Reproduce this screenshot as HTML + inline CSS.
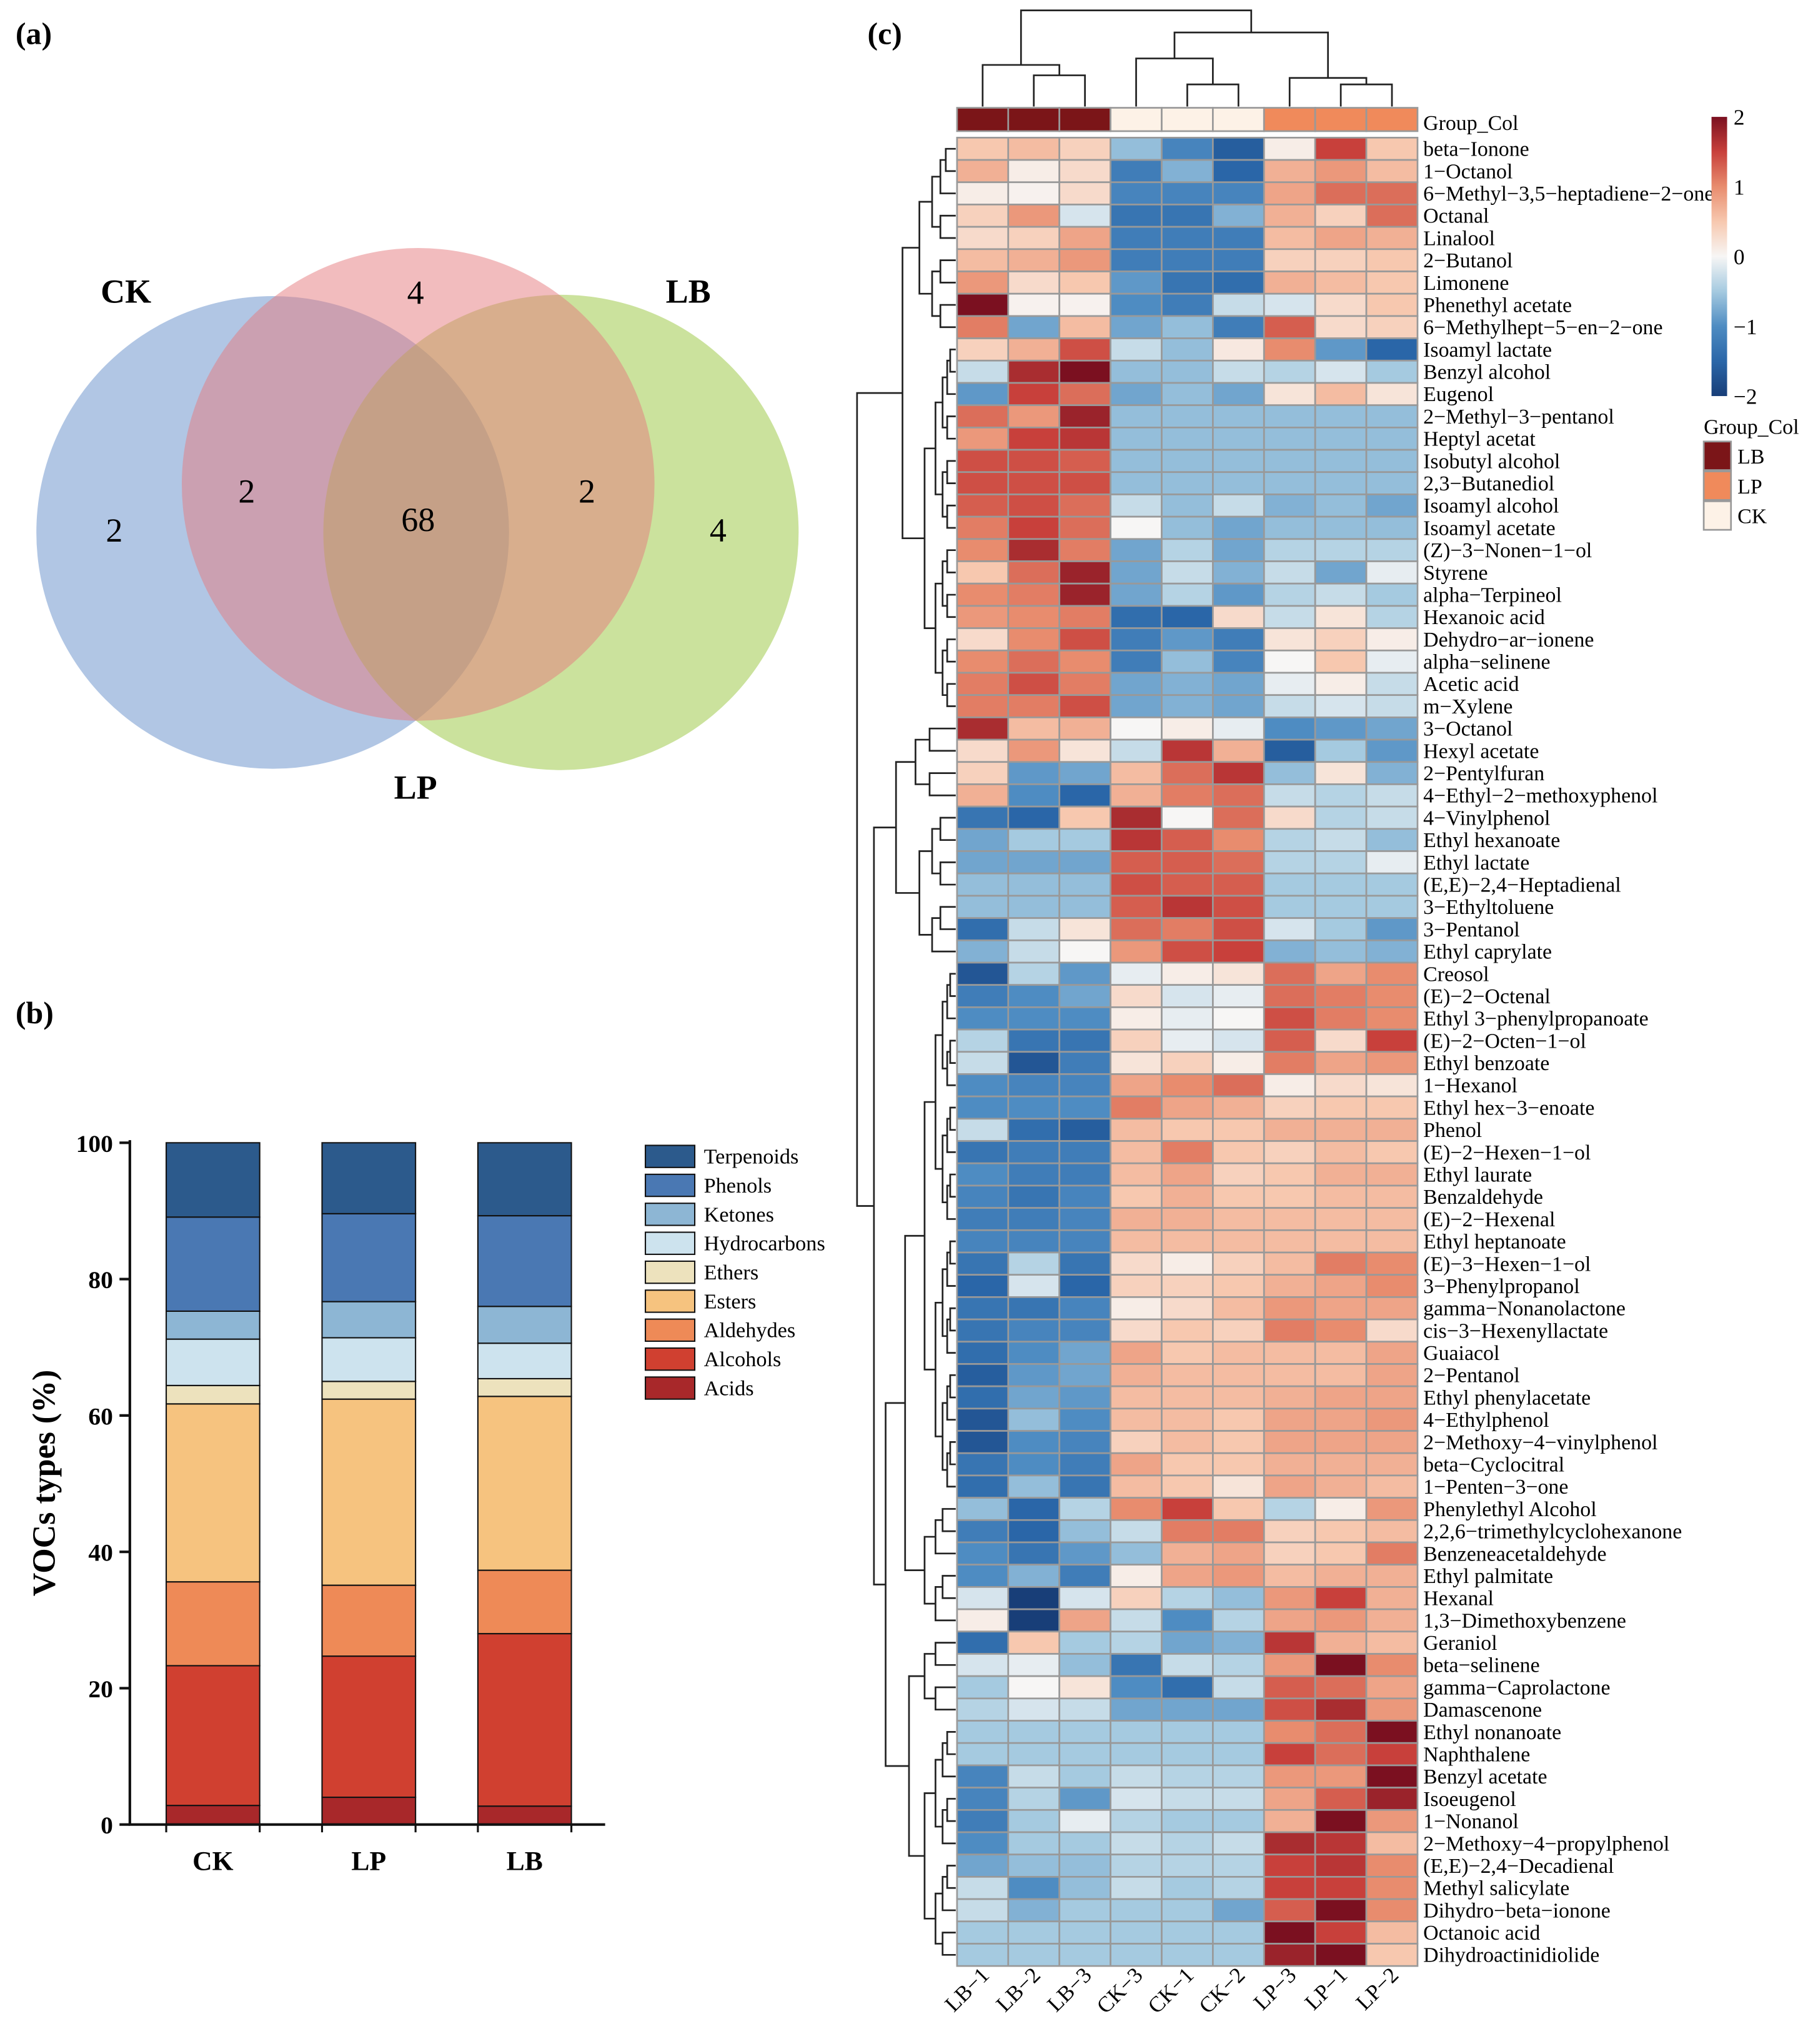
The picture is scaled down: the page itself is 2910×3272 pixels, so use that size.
<!DOCTYPE html>
<html><head><meta charset="utf-8"><style>
html,body{margin:0;padding:0;background:#fff}
svg{display:block}
text{font-family:"Liberation Serif",serif}
</style></head><body>
<svg id="fig" width="2910" height="3272" viewBox="0 0 1400 1574" preserveAspectRatio="none" xmlns="http://www.w3.org/2000/svg">
<text x="12" y="34" font-size="24" font-weight="bold">(a)</text>
<text x="12" y="788" font-size="24" font-weight="bold">(b)</text>
<text x="668" y="34" font-size="24" font-weight="bold">(c)</text>
<g>
<circle cx="210" cy="410" r="182" fill="#638dc9" fill-opacity="0.5"/>
<circle cx="432" cy="410" r="183" fill="#97c53b" fill-opacity="0.5"/>
<circle cx="322" cy="373" r="182" fill="#e5797d" fill-opacity="0.5"/>
<g font-size="26" text-anchor="middle">
<text x="97" y="233" font-weight="bold">CK</text>
<text x="530" y="233" font-weight="bold">LB</text>
<text x="320" y="615" font-weight="bold">LP</text>
<text x="320" y="234">4</text>
<text x="190" y="387">2</text>
<text x="322" y="409">68</text>
<text x="452" y="387">2</text>
<text x="88" y="417">2</text>
<text x="553" y="417">4</text>
</g></g>
<g id="bar"></g>
<g id="heat"></g>
</svg>
<script>
const NS="http://www.w3.org/2000/svg";
function mk(p,t,a){const e=document.createElementNS(NS,t);for(const k in a)e.setAttribute(k,a[k]);p.appendChild(e);return e;}
// ---------- bar chart data ----------
const barGroups=["CK","LP","LB"];
const barCategories=["Acids","Alcohols","Aldehydes","Esters","Ethers","Hydrocarbons","Ketones","Phenols","Terpenoids"];
const valsCK=[2.8,20.5,12.3,26.1,2.7,6.8,4.1,13.8,10.9];
const valsLP=[4.0,20.7,10.4,27.3,2.6,6.4,5.3,12.9,10.4];
const valsLB=[2.7,25.3,9.3,25.5,2.6,5.2,5.4,13.3,10.7];
const yTicks=[0,20,40,60,80,100];
const barColors=["#a8282a","#d04030","#ee8a57","#f6c37f","#ede2bd","#cde3ee","#8db6d4","#4a78b3","#2c5a8c"];
(function(){
 const g=document.getElementById('bar');
 const y=v=>1405-v*5.25, x=i=>164+i*120, bw=72;
 [valsCK,valsLP,valsLB].forEach((vals,i)=>{
  let c=0;
  vals.forEach((v,j)=>{
   const r=mk(g,'rect',{x:x(i)-bw/2,y:y(c+v),width:bw,height:y(c)-y(c+v),fill:barColors[j],stroke:'#111','stroke-width':1});
   
   
   c+=v;
  });
  const t=mk(g,'text',{x:x(i),y:1440,'font-size':21,'font-weight':'bold','text-anchor':'middle'});t.textContent=barGroups[i];
  
  
 });
 const ax=mk(g,'path',{d:'M100 878 V1405 H466',stroke:'#111','stroke-width':2,fill:'none'});
 
 
 yTicks.forEach(v=>{
  mk(g,'line',{x1:92,x2:100,y1:y(v),y2:y(v),stroke:'#111','stroke-width':2});
  const t=mk(g,'text',{x:87,y:y(v)+7,'font-size':19,'font-weight':'bold','text-anchor':'end'});t.textContent=v;
  
  
 });
 [128,200,248,320,368,440].forEach(xx=>mk(g,'line',{x1:xx,x2:xx,y1:1405,y2:1411,stroke:'#111','stroke-width':1.5}));
 const yt=mk(g,'text',{x:42,y:1142,'font-size':25,'font-weight':'bold','text-anchor':'middle',transform:'rotate(-90 42 1142)'});yt.textContent='VOCs types (%)';
 
 
 for(let k=0;k<9;k++){
  const j=8-k, yy=882+k*22.3;
  const r=mk(g,'rect',{x:497,y:yy,width:38,height:17,fill:barColors[j],stroke:'#111','stroke-width':1});
  
  
  const t=mk(g,'text',{x:542,y:yy+14,'font-size':16.5});t.textContent=barCategories[j];
  
  
 }
})();
// ---------- heatmap data ----------
const colLabels=["LB\u22121","LB\u22122","LB\u22123","CK\u22123","CK\u22121","CK\u22122","LP\u22123","LP\u22121","LP\u22122"];
const colGroups=["LB","LB","LB","CK","CK","CK","LP","LP","LP"];
const rowLabels=["beta\u2212Ionone","1\u2212Octanol","6\u2212Methyl\u22123,5\u2212heptadiene\u22122\u2212one","Octanal","Linalool","2\u2212Butanol","Limonene","Phenethyl acetate","6\u2212Methylhept\u22125\u2212en\u22122\u2212one","Isoamyl lactate","Benzyl alcohol","Eugenol","2\u2212Methyl\u22123\u2212pentanol","Heptyl acetat","Isobutyl alcohol","2,3\u2212Butanediol","Isoamyl alcohol","Isoamyl acetate","(Z)\u22123\u2212Nonen\u22121\u2212ol","Styrene","alpha\u2212Terpineol","Hexanoic acid","Dehydro\u2212ar\u2212ionene","alpha\u2212selinene","Acetic acid","m\u2212Xylene","3\u2212Octanol","Hexyl acetate","2\u2212Pentylfuran","4\u2212Ethyl\u22122\u2212methoxyphenol","4\u2212Vinylphenol","Ethyl hexanoate","Ethyl lactate","(E,E)\u22122,4\u2212Heptadienal","3\u2212Ethyltoluene","3\u2212Pentanol","Ethyl caprylate","Creosol","(E)\u22122\u2212Octenal","Ethyl 3\u2212phenylpropanoate","(E)\u22122\u2212Octen\u22121\u2212ol","Ethyl benzoate","1\u2212Hexanol","Ethyl hex\u22123\u2212enoate","Phenol","(E)\u22122\u2212Hexen\u22121\u2212ol","Ethyl laurate","Benzaldehyde","(E)\u22122\u2212Hexenal","Ethyl heptanoate","(E)\u22123\u2212Hexen\u22121\u2212ol","3\u2212Phenylpropanol","gamma\u2212Nonanolactone","cis\u22123\u2212Hexenyllactate","Guaiacol","2\u2212Pentanol","Ethyl phenylacetate","4\u2212Ethylphenol","2\u2212Methoxy\u22124\u2212vinylphenol","beta\u2212Cyclocitral","1\u2212Penten\u22123\u2212one","Phenylethyl Alcohol","2,2,6\u2212trimethylcyclohexanone","Benzeneacetaldehyde","Ethyl palmitate","Hexanal","1,3\u2212Dimethoxybenzene","Geraniol","beta\u2212selinene","gamma\u2212Caprolactone","Damascenone","Ethyl nonanoate","Naphthalene","Benzyl acetate","Isoeugenol","1\u2212Nonanol","2\u2212Methoxy\u22124\u2212propylphenol","(E,E)\u22122,4\u2212Decadienal","Methyl salicylate","Dihydro\u2212beta\u2212ionone","Octanoic acid","Dihydroactinidiolide"];
const heatValues=[
[0.5,0.6,0.4,-0.6,-1.1,-1.6,0.1,1.5,0.5],[0.7,0.1,0.3,-1.2,-0.7,-1.5,0.7,0.9,0.6],[0.1,0.05,0.3,-1.1,-1.1,-1.1,0.8,1.2,1.2],[0.4,0.9,-0.2,-1.3,-1.3,-0.7,0.7,0.4,1.2],[0.3,0.4,0.8,-1.2,-1.2,-1.2,0.6,0.8,0.7],[0.6,0.7,0.9,-1.2,-1.2,-1.2,0.4,0.4,0.5],[0.9,0.3,0.5,-0.9,-1.3,-1.4,0.7,0.6,0.5],[2.2,0.05,0.05,-1.0,-1.2,-0.3,-0.2,0.3,0.5],[1.1,-0.8,0.6,-0.8,-0.6,-1.2,1.3,0.3,0.4],[0.4,0.7,1.4,-0.3,-0.6,0.15,1.0,-0.9,-1.5],
[-0.3,1.7,2.0,-0.6,-0.6,-0.3,-0.4,-0.2,-0.5],[-0.9,1.5,1.2,-0.8,-0.6,-0.8,0.2,0.6,0.2],[1.2,0.9,1.8,-0.6,-0.6,-0.6,-0.6,-0.6,-0.6],[0.9,1.5,1.6,-0.6,-0.6,-0.6,-0.6,-0.6,-0.6],[1.4,1.4,1.3,-0.6,-0.6,-0.6,-0.6,-0.6,-0.6],[1.4,1.4,1.4,-0.6,-0.6,-0.6,-0.6,-0.6,-0.6],[1.3,1.4,1.2,-0.3,-0.6,-0.3,-0.7,-0.6,-0.8],[1.1,1.5,1.2,0.0,-0.6,-0.8,-0.6,-0.6,-0.6],[1.0,1.7,1.1,-0.8,-0.4,-0.8,-0.4,-0.4,-0.4],[0.5,1.2,1.8,-0.8,-0.3,-0.7,-0.3,-0.8,-0.1],
[1.0,1.1,1.8,-0.8,-0.4,-0.9,-0.4,-0.3,-0.5],[0.9,1.0,1.1,-1.4,-1.5,0.3,-0.3,0.2,-0.4],[0.3,1.0,1.4,-1.2,-0.9,-1.2,0.2,0.4,0.1],[1.0,1.2,1.0,-1.2,-0.6,-1.1,0.0,0.5,-0.1],[1.1,1.4,1.1,-0.8,-0.7,-0.8,-0.1,0.1,-0.3],[1.1,1.1,1.4,-0.8,-0.7,-0.8,-0.3,-0.2,-0.3],[1.7,0.6,0.7,0.0,0.1,-0.1,-1.0,-0.9,-0.8],[0.3,0.9,0.2,-0.3,1.6,0.7,-1.6,-0.5,-0.9],[0.4,-0.9,-0.8,0.6,1.2,1.6,-0.6,0.2,-0.7],[0.7,-1.0,-1.5,0.7,1.1,1.2,-0.3,-0.4,-0.3],
[-1.3,-1.5,0.5,1.7,0.0,1.2,0.3,-0.4,-0.3],[-0.8,-0.5,-0.5,1.6,1.3,1.0,-0.4,-0.3,-0.6],[-0.8,-0.8,-0.8,1.3,1.3,1.2,-0.4,-0.4,-0.1],[-0.6,-0.6,-0.6,1.4,1.3,1.3,-0.5,-0.5,-0.5],[-0.6,-0.6,-0.6,1.3,1.6,1.4,-0.5,-0.5,-0.5],[-1.4,-0.3,0.2,1.2,1.1,1.4,-0.2,-0.5,-0.9],[-0.7,-0.3,0.0,0.9,1.4,1.5,-0.7,-0.6,-0.7],[-1.7,-0.4,-0.9,-0.1,0.1,0.2,1.2,0.8,1.0],[-1.2,-1.0,-0.8,0.3,-0.2,-0.1,1.2,1.1,1.0],[-1.0,-1.0,-1.0,0.1,-0.1,0.0,1.4,1.1,1.0],
[-0.4,-1.3,-1.3,0.4,-0.1,-0.2,1.3,0.3,1.5],[-0.3,-1.7,-1.2,0.2,0.4,0.1,1.1,0.8,0.9],[-1.0,-1.1,-1.1,0.8,1.0,1.2,0.1,0.3,0.2],[-1.0,-1.0,-1.0,1.1,0.8,0.7,0.4,0.5,0.5],[-0.3,-1.4,-1.6,0.6,0.5,0.5,0.7,0.7,0.7],[-1.3,-1.2,-1.2,0.6,1.1,0.5,0.4,0.6,0.5],[-1.0,-1.2,-1.2,0.6,0.8,0.4,0.5,0.7,0.7],[-1.1,-1.3,-1.1,0.5,0.7,0.5,0.5,0.6,0.6],[-1.2,-1.2,-1.1,0.7,0.7,0.6,0.6,0.6,0.6],[-1.1,-1.1,-1.1,0.6,0.6,0.6,0.6,0.6,0.6],
[-1.3,-0.4,-1.3,0.3,0.1,0.4,0.6,1.1,1.0],[-1.5,-0.2,-1.5,0.4,0.4,0.5,0.7,0.8,1.0],[-1.3,-1.3,-1.1,0.1,0.3,0.6,0.9,0.8,0.8],[-1.3,-1.1,-1.1,0.3,0.5,0.4,1.1,1.0,0.3],[-1.4,-1.0,-0.8,0.8,0.5,0.6,0.6,0.6,0.8],[-1.6,-0.9,-0.8,0.7,0.6,0.6,0.6,0.6,0.8],[-1.4,-0.8,-0.9,0.6,0.6,0.6,0.7,0.8,0.8],[-1.7,-0.6,-1.0,0.6,0.6,0.5,0.8,0.8,0.9],[-1.7,-1.0,-1.1,0.4,0.6,0.5,0.8,0.8,0.8],[-1.3,-1.0,-1.2,0.8,0.5,0.5,0.7,0.7,0.7],
[-1.4,-0.6,-1.3,0.6,0.5,0.2,0.8,0.7,0.6],[-0.6,-1.5,-0.4,1.0,1.5,0.5,-0.4,0.1,0.9],[-1.2,-1.5,-0.6,-0.3,1.1,1.1,0.4,0.5,0.6],[-1.0,-1.3,-0.9,-0.6,0.7,0.8,0.4,0.5,1.1],[-1.0,-0.7,-1.2,0.1,0.8,0.9,0.6,0.7,0.7],[-0.2,-2.0,-0.2,0.4,-0.4,-0.6,0.9,1.5,0.7],[0.1,-2.2,0.8,-0.3,-1.0,-0.4,0.8,0.9,0.7],[-1.4,0.5,-0.5,-0.4,-0.8,-0.7,1.6,0.7,0.6],[-0.2,-0.1,-0.6,-1.3,-0.3,-0.4,0.9,2.0,1.0],[-0.5,0.0,0.2,-1.0,-1.4,-0.3,1.3,1.2,0.8],
[-0.4,-0.2,-0.3,-0.8,-0.8,-0.8,1.4,1.7,0.9],[-0.5,-0.5,-0.5,-0.5,-0.5,-0.5,1.0,1.2,2.0],[-0.5,-0.5,-0.5,-0.5,-0.5,-0.5,1.5,1.2,1.5],[-1.1,-0.3,-0.5,-0.3,-0.4,-0.4,0.9,0.9,2.0],[-1.1,-0.4,-0.9,-0.2,-0.3,-0.3,0.8,1.3,1.8],[-1.2,-0.5,-0.1,-0.4,-0.5,-0.5,0.7,2.0,0.9],[-1.0,-0.5,-0.5,-0.3,-0.4,-0.3,1.7,1.6,0.6],[-0.8,-0.6,-0.6,-0.4,-0.4,-0.4,1.5,1.6,1.0],[-0.3,-1.0,-0.6,-0.3,-0.5,-0.4,1.5,1.5,1.0],[-0.3,-0.7,-0.5,-0.5,-0.5,-0.8,1.3,2.0,1.0],
[-0.5,-0.5,-0.5,-0.5,-0.5,-0.5,2.0,1.5,0.6],[-0.5,-0.5,-0.5,-0.5,-0.5,-0.5,1.8,2.0,0.5]];
const scaleTicks=[2,1,0,-1,-2];
const groupNames=["LB","LP","CK"];
const groupColors={LB:"#7b1518",LP:"#f08a5b",CK:"#fdf2e7"};
const stops=[[-2,[24,62,120]],[-1.5,[42,102,168]],[-1,[78,140,194]],[-0.5,[165,202,224]],[0,[247,246,245]],[0.5,[247,200,175]],[1,[232,140,110]],[1.5,[200,64,59]],[2,[123,16,32]]];
function cmap(v){v=Math.max(-2,Math.min(2,v));for(let i=0;i<stops.length-1;i++){const[a,ca]=stops[i],[b,cb]=stops[i+1];if(v<=b){const t=(v-a)/(b-a);return 'rgb('+ca.map((c,k)=>Math.round(c+(cb[k]-c)*t)).join(',')+')';}}return 'rgb(123,16,32)';}
(function(){
 const g=document.getElementById('heat');
 const X0=737,CW=39.4,Y0=106,RH=17.17;
 const cx=j=>X0+CW*j, ry=i=>Y0+RH*i;
 colGroups.forEach((gr,j)=>{
  const r=mk(g,'rect',{x:cx(j),y:83,width:CW,height:18,fill:groupColors[gr],stroke:'#999','stroke-width':1.3});
  
  
 });
 const gt=mk(g,'text',{x:1096,y:100,'font-size':16.3});gt.textContent='Group_Col';
 
 
 heatValues.forEach((row,i)=>{
  row.forEach((v,j)=>{
   const r=mk(g,'rect',{x:cx(j),y:ry(i),width:CW,height:RH,fill:cmap(v),stroke:'#999','stroke-width':1.3});
   
   
  });
  const t=mk(g,'text',{x:1096,y:ry(i)+RH/2+5.5,'font-size':16.3});t.textContent=rowLabels[i];
  
  
 });
 colLabels.forEach((c,j)=>{
  const x=cx(j)+CW/2+6, y=1522;
  const t=mk(g,'text',{x:x,y:y,'font-size':17,'text-anchor':'end',transform:'rotate(-45 '+x+' '+y+')'});t.textContent=c;
  
  
 });
 const cc=j=>cx(j)+CW/2;
 function link(x1,y1,x2,y2,h){return 'M'+x1+' '+y1+'V'+h+'H'+x2+'V'+y2;}
 let d='';
 const lb23=(cc(1)+cc(2))/2; d+=link(cc(1),82,cc(2),82,58);
 const lb=(cc(0)+lb23)/2; d+=link(cc(0),82,lb23,58,50);
 const ck12=(cc(4)+cc(5))/2; d+=link(cc(4),82,cc(5),82,65);
 const ck=(cc(3)+ck12)/2; d+=link(cc(3),82,ck12,65,45);
 const lp12=(cc(7)+cc(8))/2; d+=link(cc(7),82,cc(8),82,65);
 const lp=(cc(6)+lp12)/2; d+=link(cc(6),82,lp12,65,60);
 const cl=(ck+lp)/2; d+=link(ck,45,lp,60,25);
 d+=link(lb,50,cl,25,8);
 const cd=mk(g,'path',{d:d,stroke:'#222','stroke-width':1.3,fill:'none'});
 
 
 const rc=i=>ry(i)+RH/2;
 let rd='';
 function hlink(y1,x1,y2,x2,h){return 'M'+x1+' '+y1+'H'+h+'V'+y2+'H'+x2;}
 function build(a,b,h){
  if(a===b) return [rc(a),736];
  const m=Math.floor((a+b)/2);
  const hh=h+(736-h)*0.35;
  const L1=build(a,m,hh),R1=build(m+1,b,hh);
  rd+=hlink(L1[0],L1[1],R1[0],R1[1],h);
  return [(L1[0]+R1[0])/2,h];
 }
 function join(A,B,h){rd+=hlink(A[0],A[1],B[0],B[1],h);return [(A[0]+B[0])/2,h];}
 const a1=join(build(0,8,708),build(9,25,712),695);
 const b1=join(build(26,29,705),build(30,36,708),690);
 const c1=join(build(37,60,712),build(61,66,712),697);
 const c2=join(build(67,70,712),build(71,81,712),700);
 const c=join(c1,c2,682);
 const b=join(b1,c,673);
 join(a1,b,660);
 const rdp=mk(g,'path',{d:rd,stroke:'#222','stroke-width':1.3,fill:'none'});
 
 
 const defs=mk(g,'defs',{});
 const lg=mk(defs,'linearGradient',{id:'cg',x1:0,y1:1,x2:0,y2:0});
 stops.forEach(s=>mk(lg,'stop',{offset:((s[0]+2)/4),'stop-color':'rgb('+s[1].join(',')+')'}));
 const sb=mk(g,'rect',{x:1318,y:90,width:12,height:215,fill:'url(#cg)'});
 
 
 scaleTicks.forEach(v=>{
  const yy=90+(2-v)/4*215;
  const t=mk(g,'text',{x:1335,y:yy+6,'font-size':17});t.textContent=v<0?'\u2212'+(-v):v;
  
  
 });
 const lt=mk(g,'text',{x:1312,y:334,'font-size':16.3});lt.textContent='Group_Col';
 
 
 groupNames.forEach((n,k)=>{
  const yy=340+k*23;
  const r=mk(g,'rect',{x:1312,y:yy,width:21,height:22,fill:groupColors[n],stroke:'#999','stroke-width':1.3});
  
  
  const t=mk(g,'text',{x:1338,y:yy+17,'font-size':16.3});t.textContent=n;
  
  
 });
})();
</script>
</body></html>
